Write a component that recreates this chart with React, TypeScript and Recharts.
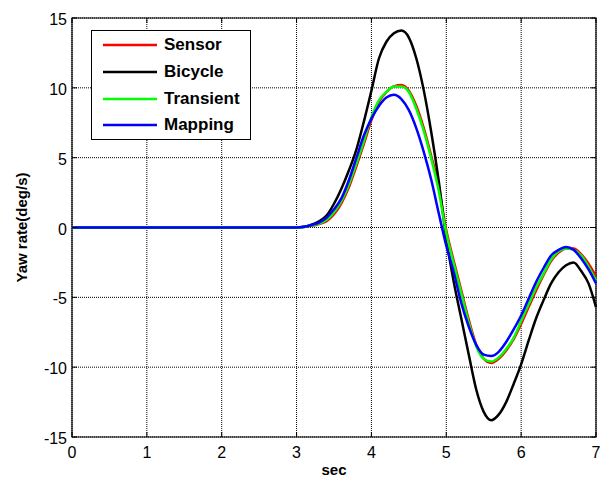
import React from 'react';
import { LineChart, Line, XAxis, YAxis, CartesianGrid, Legend, ReferenceArea } from 'recharts';

// time axis (s)
const time = [0, 1, 2, 3.0, 3.1, 3.2, 3.3, 3.4, 3.5, 3.6, 3.7, 3.8, 3.9, 4.0, 4.1, 4.2, 4.3, 4.4, 4.5, 4.6, 4.7, 4.8, 4.9,
  5.0, 5.1, 5.2, 5.3, 5.4, 5.5, 5.6, 5.7, 5.8, 5.9, 6.0, 6.1, 6.2, 6.3, 6.4, 6.5, 6.6, 6.7, 6.8, 6.9, 7.0];

const sensor = [0, 0, 0, 0, 0.03, 0.12, 0.25, 0.45, 0.95, 1.75, 2.9, 4.4, 6.0, 7.7, 9.0, 9.7, 10.1, 10.2, 9.8, 8.7, 7.1, 5.1, 2.9,
  -0.2, -2.4, -4.5, -6.6, -8.4, -9.4, -9.7, -9.4, -8.8, -8.0, -6.9, -5.7, -4.5, -3.4, -2.4, -1.8, -1.5, -1.5, -1.9, -2.6, -3.5];

const bicycle = [0, 0, 0, 0, 0.05, 0.2, 0.45, 0.85, 1.7, 2.8, 4.1, 5.6, 7.6, 9.8, 12.1, 13.3, 13.9, 14.1, 13.6, 12.1, 9.8, 6.8, 3.3,
  -0.8, -3.9, -6.5, -9.1, -11.6, -13.2, -13.8, -13.4, -12.5, -11.2, -9.8, -8.1, -6.5, -5.2, -4.0, -3.2, -2.7, -2.5, -3.1, -4.0, -5.7];

const transient = [0, 0, 0, 0, 0.04, 0.14, 0.28, 0.55, 1.1, 1.9, 3.1, 4.6, 6.2, 7.9, 9.1, 9.7, 10.1, 10.1, 9.7, 8.5, 6.9, 4.9, 2.6,
  -0.4, -2.6, -4.7, -6.8, -8.5, -9.4, -9.6, -9.3, -8.7, -7.9, -6.7, -5.5, -4.3, -3.3, -2.3, -1.7, -1.5, -1.6, -2.0, -2.8, -3.8];

const mapping = [0, 0, 0, 0, 0.05, 0.18, 0.35, 0.7, 1.3, 2.1, 3.4, 5.0, 6.6, 7.8, 8.7, 9.3, 9.5, 9.2, 8.4, 7.1, 5.4, 3.4, 1.0,
  -1.3, -3.2, -5.4, -7.1, -8.4, -9.1, -9.2, -8.9, -8.2, -7.3, -6.3, -5.1, -3.9, -2.9, -2.0, -1.6, -1.4, -1.6, -2.2, -3.0, -4.0];

const seriesNames = ['Sensor', 'Bicycle', 'Transient', 'Mapping'];
const seriesColors = ['#ff0000', '#000000', '#00ff00', '#0000ff'];

const xTicks = [0, 1, 2, 3, 4, 5, 6, 7];
const yTicks = [-15, -10, -5, 0, 5, 10, 15];

const data = time.map((t, i) => ({
  t,
  Sensor: sensor[i],
  Bicycle: bicycle[i],
  Transient: transient[i],
  Mapping: mapping[i],
}));

const W = 610;
const H = 485;
const TOP = 18;
const LEFT = 72;
const RIGHT = 596;
const BOTTOM = 437;
const FONT = 'Liberation Sans, Arial, Helvetica, sans-serif';

const XTick = (props: any) => {
  const { x, payload } = props;
  return (
    <g>
      <line x1={x} y1={BOTTOM} x2={x} y2={BOTTOM - 5} stroke="#000" />
      <line x1={x} y1={TOP} x2={x} y2={TOP + 5} stroke="#000" />
      <text x={x} y={BOTTOM + 21} textAnchor="middle" fontSize={16} fontFamily={FONT} fill="#000">
        {payload.value}
      </text>
    </g>
  );
};

const YTick = (props: any) => {
  const { y, payload } = props;
  return (
    <g>
      <line x1={LEFT} y1={y} x2={LEFT + 5} y2={y} stroke="#000" />
      <line x1={RIGHT} y1={y} x2={RIGHT - 5} y2={y} stroke="#000" />
      <text x={LEFT - 5} y={y + 7} textAnchor="end" fontSize={16} fontFamily={FONT} fill="#000">
        {payload.value}
      </text>
    </g>
  );
};

const LegendBox = () => (
  <div
    style={{
      width: 158,
      height: 107,
      border: '1.5px solid #000',
      background: '#fff',
      boxSizing: 'content-box',
      paddingTop: 1,
    }}
  >
    {seriesNames.map((name, i) => (
      <div key={name} style={{ display: 'flex', alignItems: 'center', height: 26.7 }}>
        <svg width={72} height={10} style={{ flex: 'none' }}>
          <line x1={11} y1={5} x2={65} y2={5} stroke={seriesColors[i]} strokeWidth={2.5} />
        </svg>
        <span style={{ fontFamily: FONT, fontWeight: 'bold', fontSize: 17, color: '#000' }}>{name}</span>
      </div>
    ))}
  </div>
);

export default function App() {
  return (
    <div style={{ position: 'absolute', left: 0, top: 0, width: W, height: H, background: '#fff' }}>
      <LineChart
        width={W}
        height={H}
        data={data}
        margin={{ top: TOP, right: W - RIGHT, bottom: 0, left: 0 }}
      >
        <CartesianGrid stroke="#000" strokeDasharray="1 1" strokeWidth={1} />
        <XAxis
          dataKey="t"
          type="number"
          domain={[0, 7]}
          ticks={xTicks}
          height={H - BOTTOM}
          axisLine={false}
          tickLine={false}
          tick={<XTick />}
          interval={0}
          label={{ value: 'sec', position: 'insideBottom', offset: 10, fontSize: 15, fontWeight: 'bold', fontFamily: FONT, fill: '#000' }}
        />
        <YAxis
          type="number"
          domain={[-15, 15]}
          ticks={yTicks}
          width={LEFT}
          axisLine={false}
          tickLine={false}
          tick={<YTick />}
          interval={0}
          label={{ value: 'Yaw rate(deg/s)', angle: -90, position: 'insideLeft', offset: 22, fontSize: 15, fontWeight: 'bold', fontFamily: FONT, fill: '#000', style: { textAnchor: 'middle' } }}
        />
        <ReferenceArea x1={0} x2={7} y1={-15} y2={15} fill="none" stroke="#000" strokeWidth={1.2} ifOverflow="visible" />
        <Legend
          layout="vertical"
          verticalAlign="middle"
          align="center"
          content={<LegendBox />}
          wrapperStyle={{ left: 91, top: 30, width: 162, height: 111 }}
        />
        {seriesNames.map((name, i) => (
          <Line
            key={name}
            type="monotone"
            dataKey={name}
            stroke={seriesColors[i]}
            strokeWidth={2.5}
            dot={false}
            isAnimationActive={false}
          />
        ))}
      </LineChart>
    </div>
  );
}
